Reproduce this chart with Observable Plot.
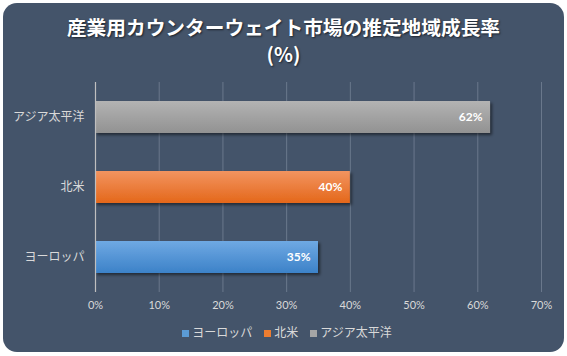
<!DOCTYPE html>
<html><head><meta charset="utf-8">
<script src="https://cdn.jsdelivr.net/npm/d3@7"></script>
<script src="https://cdn.jsdelivr.net/npm/@observablehq/plot@0.6"></script>
<style>
body{margin:0;background:#fff;width:567px;height:356px;position:relative;overflow:hidden;font-family:"Noto Sans CJK JP",sans-serif;}
#card{position:absolute;left:3px;top:3px;width:561px;height:349px;background:#44546A;border-radius:14px;}
.title{position:absolute;left:0;width:567px;text-align:center;color:#fff;font-weight:bold;font-size:19.7px;line-height:22px;text-shadow:1px 1px 2px rgba(0,0,0,0.6);}
#t1{top:16px;}
#t2{top:43px;}
#chart{position:absolute;left:0;top:0;}
#legend{position:absolute;left:0;top:323px;width:574px;text-align:center;color:#d9d9d9;font-size:12px;}
#legend span{margin:0 6px;}
#legend i{display:inline-block;width:7px;height:7px;margin-right:3px;vertical-align:0px;}
</style></head>
<body>
<div id="card"></div>
<div id="t1" class="title">産業用カウンターウェイト市場の推定地域成長率</div>
<div id="t2" class="title">(%)</div>
<div id="chart"></div>
<div id="legend"></div>
<script>
const regions = ["ヨーロッパ", "北米", "アジア太平洋"];
const values = [35, 40, 62];
const xTicks = [0, 10, 20, 30, 40, 50, 60, 70];
const legendColors = ["#5b9bd5", "#ed7d31", "#a5a5a5"];
const gradIds = ["url(#gEu)", "url(#gNa)", "url(#gAp)"];

const data = regions.map((r, i) => ({region: r, value: values[i]}));

const plot = Plot.plot({
  width: 567, height: 320,
  marginTop: 82, marginBottom: 28, marginLeft: 95, marginRight: 26,
  style: {background: "transparent", color: "#d9d9d9", fontFamily: "Lato, sans-serif", fontSize: "11px"},
  x: {domain: [0, 70], ticks: xTicks, tickFormat: d => d + "%", label: null, tickSize: 0, tickPadding: 9},
  y: {domain: regions.slice().reverse(), paddingInner: 0.536, paddingOuter: 0.268, label: null, tickSize: 0, tickPadding: 11},
  color: {domain: regions, range: gradIds},
  marks: [
    Plot.gridX(xTicks, {stroke: "#6a788c", strokeOpacity: 1, strokeWidth: 1}),
    Plot.barX(data, {x: "value", y: "region", fill: "region", className: "bars"}),
    Plot.ruleX([0], {stroke: "#bfbfbf", strokeWidth: 1.2}),
    Plot.text(data, {x: "value", y: "region", text: d => d.value + "%", textAnchor: "end", dx: -8, fill: "#fff", fontWeight: "bold", fontSize: 12, fontFamily: "Lato, sans-serif"})
  ]
});
document.getElementById("chart").appendChild(plot);

const svg = d3.select(plot);
const defs = svg.insert("defs", ":first-child");
const grads = [["gEu", "#6fa9e3", "#3c82c8"], ["gNa", "#f29460", "#e4671a"], ["gAp", "#b3b3b3", "#929292"]];
for (const [id, top, bot] of grads) {
  const g = defs.append("linearGradient").attr("id", id).attr("x1", 0).attr("y1", 0).attr("x2", 0).attr("y2", 1);
  g.append("stop").attr("offset", "0%").attr("stop-color", top);
  g.append("stop").attr("offset", "45%").attr("stop-color", d3.interpolateRgb(top, bot)(0.45));
  g.append("stop").attr("offset", "100%").attr("stop-color", bot);
}
const f = defs.append("filter").attr("id", "shadow").attr("x", "-10%").attr("y", "-30%").attr("width", "130%").attr("height", "180%");
f.append("feDropShadow").attr("dx", 2).attr("dy", 2).attr("stdDeviation", 1.8).attr("flood-color", "#000").attr("flood-opacity", 0.5);
svg.selectAll("g.bars").attr("filter", "url(#shadow)");
svg.selectAll("[aria-label='y-axis tick label'] text, [aria-label='y-axis tick label']").style("font-family", "'Noto Sans CJK JP', sans-serif").style("font-size", "12px");

const legend = document.getElementById("legend");
regions.forEach((r, i) => {
  const s = document.createElement("span");
  s.innerHTML = `<i style="background:${legendColors[i]}"></i>${r}`;
  legend.appendChild(s);
});
</script>
</body></html>
